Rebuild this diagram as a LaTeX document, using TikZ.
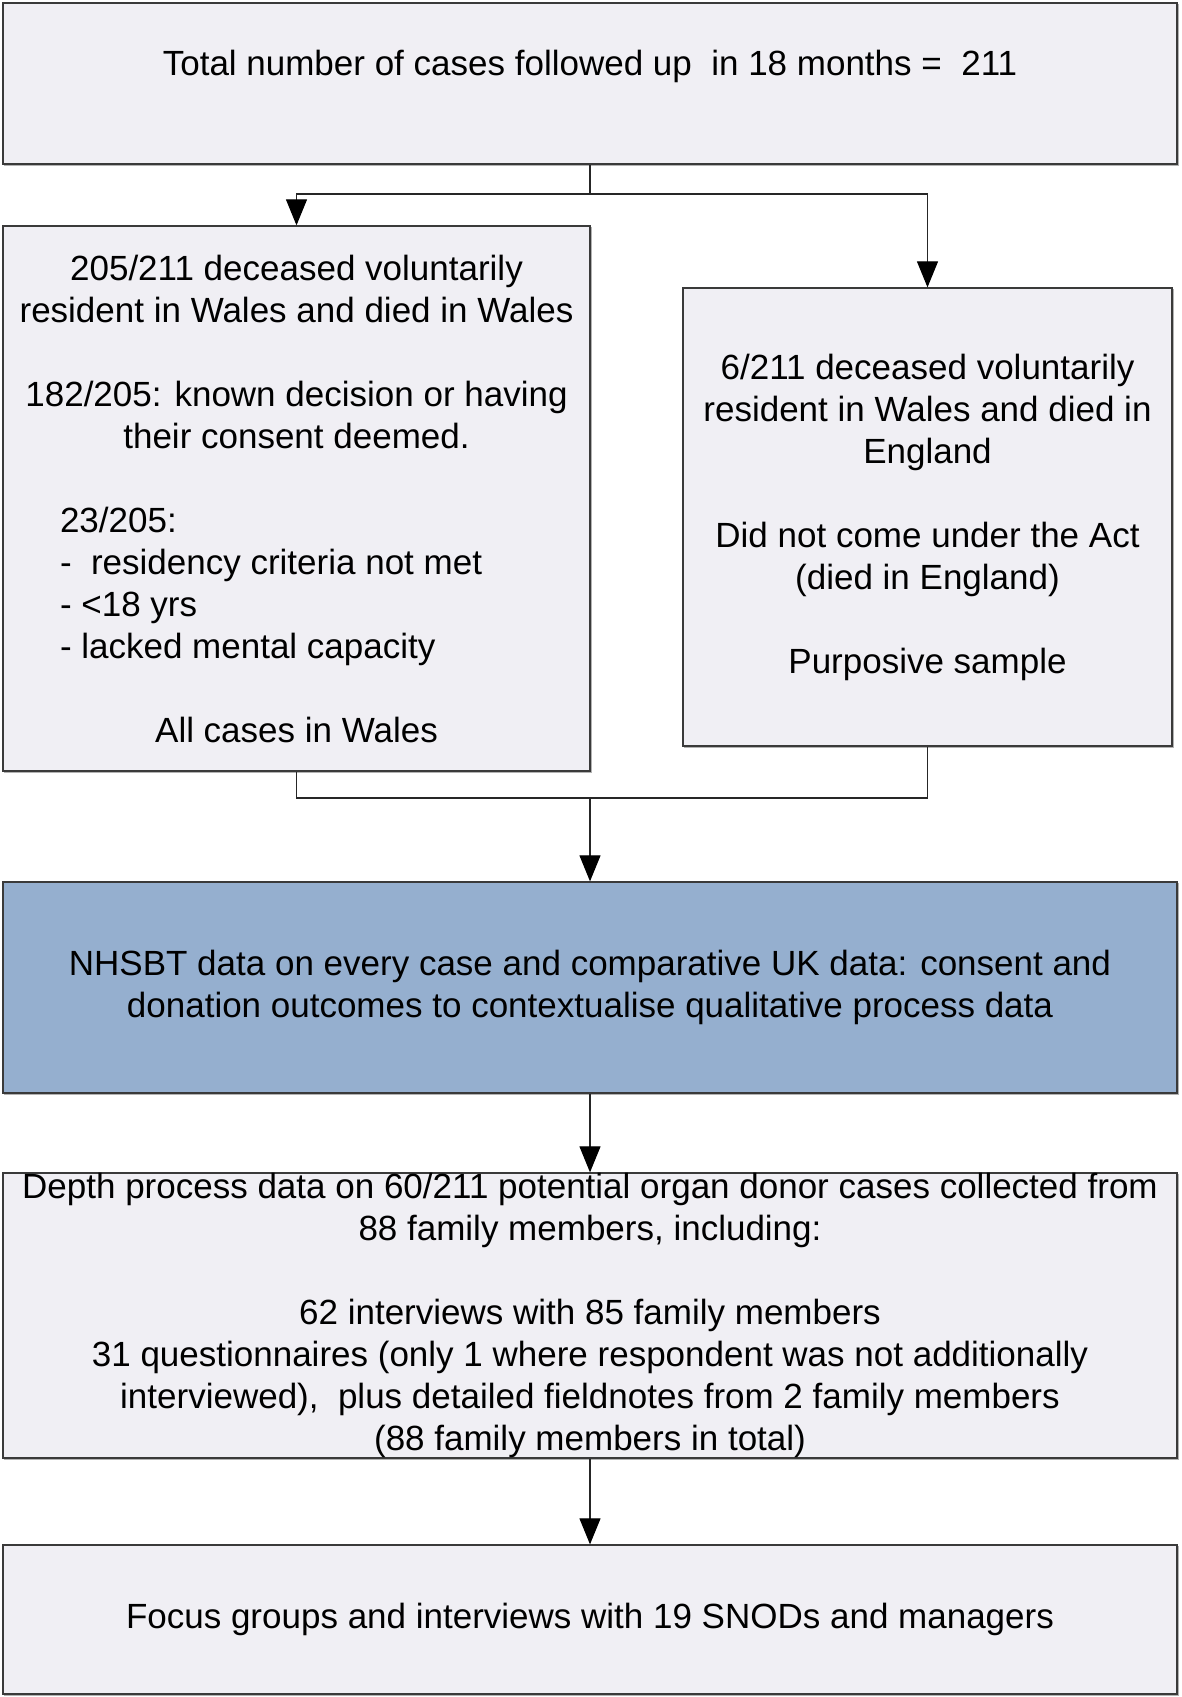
\documentclass[tikz,border=0pt]{standalone}
\usepackage{fontspec}
\setmainfont{Liberation Sans}
\usetikzlibrary{arrows.meta}
\definecolor{boxfill}{HTML}{F0EFF4}
\definecolor{bluefill}{HTML}{95AFCF}
\definecolor{edgecol}{HTML}{3A3A3A}
\begin{document}
\begin{tikzpicture}[x=1pt,y=-1pt,
  box/.style={draw=edgecol, line width=1.3pt, fill=boxfill, inner sep=0pt, align=center,
    font=\fontsize{35}{42}\selectfont,
    preaction={draw=black!30, line width=1.3pt, transform canvas={shift={(1.3pt,-1.3pt)}}}},
  conn/.style={draw=black!85, line width=1.1pt},
  arr/.style={conn, -{Triangle[length=26pt,width=21pt,color=black]}}]
\useasboundingbox (0,0) rectangle (1181,1697);
\fill[white] (0,0) rectangle (1181,1697);

\node[box, minimum width=1174pt, minimum height=161pt] (b1) at (590,83.5)
  {Total number of cases followed up\ \ in 18 months =\ \ 211\\\mbox{}};

\node[box, minimum width=587pt, minimum height=545pt] (b2) at (296.5,498.5)
  {205/211 deceased voluntarily\\
   resident in Wales and died in Wales\\[42pt]
   182/205: known decision or having\\
   their consent deemed.\\[42pt]
   \makebox[473pt][l]{23/205:}\\
   \makebox[473pt][l]{-\ \ residency criteria not met}\\
   \makebox[473pt][l]{- <18 yrs}\\
   \makebox[473pt][l]{- lacked mental capacity}\\[42pt]
   All cases in Wales};

\node[box, minimum width=489pt, minimum height=458pt] (b3) at (927.5,517)
  {6/211 deceased voluntarily\\
   resident in Wales and died in\\
   England\\[42pt]
   Did not come under the Act\\
   (died in England)\\[42pt]
   Purposive sample};

\node[box, fill=bluefill, minimum width=1174pt, minimum height=211pt] (b4) at (590,987.5)
  {NHSBT data on every case and comparative UK data: consent and\\
   donation outcomes to contextualise qualitative process data};

\node[box, minimum width=1174pt, minimum height=285pt] (b5) at (590,1315.5)
  {Depth process data on 60/211 potential organ donor cases collected from\\
   88 family members, including:\\[42pt]
   62 interviews with 85 family members\\
   31 questionnaires (only 1 where respondent was not additionally\\
   interviewed),\ \ plus detailed fieldnotes from 2 family members\\
   (88 family members in total)};

\node[box, minimum width=1174pt, minimum height=149pt] (b6) at (590,1619.5)
  {Focus groups and interviews with 19 SNODs and managers};

\coordinate (lvl1) at (0,194);
\coordinate (lvl2) at (0,798);
\coordinate (split) at (b1.south |- lvl1);
\coordinate (merge) at (b4.north |- lvl2);

\draw[conn] (b1.south) -- (split);
\draw[arr] (split) -| (b2.north);
\draw[arr] (split) -| (b3.north);
\draw[conn] (b2.south) |- (merge);
\draw[conn] (b3.south) |- (merge);
\draw[arr] (merge) -- (b4.north);
\draw[arr] (b4.south) -- (b5.north);
\draw[arr] (b5.south) -- (b6.north);
\end{tikzpicture}
\end{document}
